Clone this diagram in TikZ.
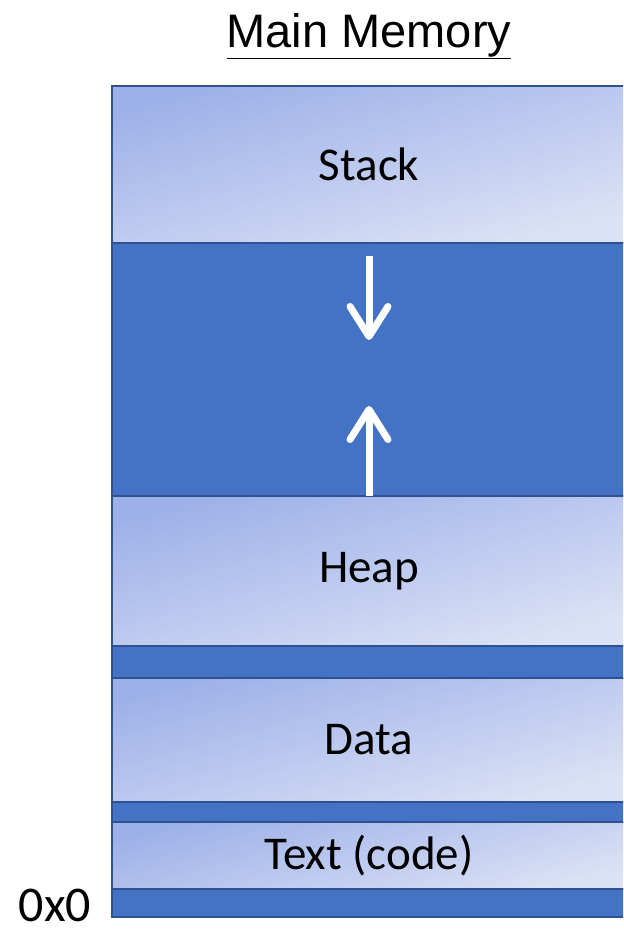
\documentclass[tikz,border=0pt]{standalone}
\usepackage{fontspec}
\setmainfont{Carlito}
\newfontfamily\titlefont{Liberation Sans}
\usetikzlibrary{positioning,arrows.meta}
\definecolor{memdark}{HTML}{4472C4}
\definecolor{memline}{HTML}{2F528F}
\definecolor{memtop}{HTML}{9DB1E9}
\definecolor{membot}{HTML}{DCE2F5}
\tikzset{
  region/.style={rectangle,draw=memline,line width=2.5pt,minimum width=514pt,
    inner sep=0pt,outer sep=0pt,top color=memtop,bottom color=membot,
    shading angle=15,font=\fontsize{47}{56}\selectfont},
  gapregion/.style={rectangle,draw=memline,line width=2.5pt,minimum width=514pt,
    inner sep=0pt,outer sep=0pt,fill=memdark},
  meetarrow/.style={draw=white,line width=7pt,
    -{Straight Barb[length=30pt,width=38pt,round]}}
}

\begin{document}
\begin{tikzpicture}[x=1pt,y=-1pt,node distance=0pt]
  \clip (0,0) rectangle (623,933);

  \node[font=\titlefont\fontsize{47}{54}\selectfont] (title) at (369,36) {\underline{Main Memory}};

  \node[region,minimum height=157pt] (stack) at (369,164.5) {Stack};
  \node[gapregion,minimum height=253pt] (free) [below = of stack] {};
  \node[region,minimum height=150pt] (heap) [below = of free] {Heap};
  \node[gapregion,minimum height=32pt] (gapa) [below = of heap] {};
  \node[region,minimum height=124pt] (data) [below = of gapa] {Data};
  \node[gapregion,minimum height=20pt] (gapb) [below = of data] {};
  \node[region,minimum height=67pt] (text) [below = of gapb] {Text (code)};
  \node[gapregion,minimum height=28pt] (gapc) [below = of text] {};

  \node[font=\fontsize{50}{56}\selectfont,inner sep=0pt] (zero) at (55,905) {0x0};

  \coordinate[below = 13pt of stack] (stacktop);
  \coordinate (stacktip) at (369,340);
  \coordinate (heaptip) at (369,406);

  \draw[meetarrow] (stacktop) -- (stacktip);
  \draw[meetarrow] (heap.north) -- (heaptip);
\end{tikzpicture}
\end{document}
